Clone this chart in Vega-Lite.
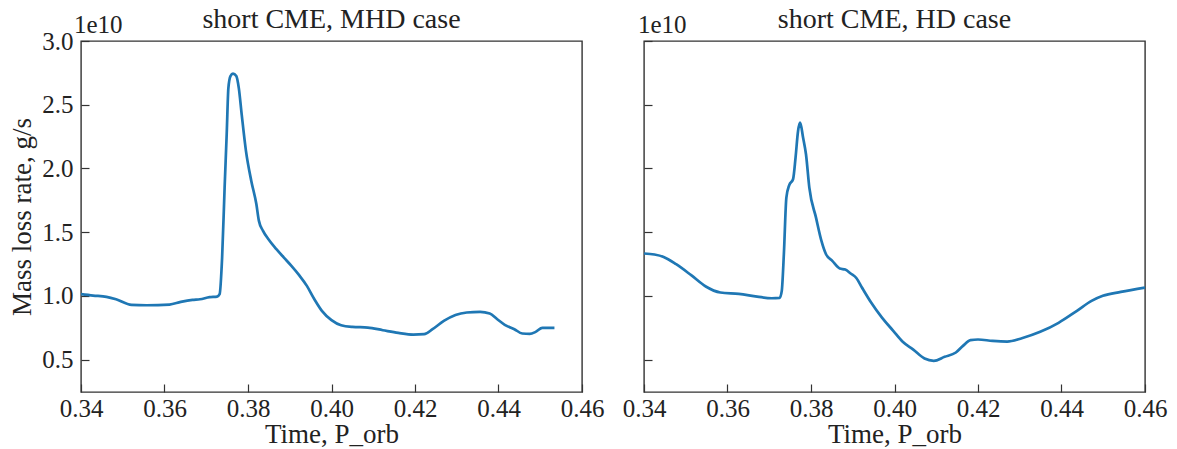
{
  "$schema": "https://vega.github.io/schema/vega-lite/v6.json",
  "background": "white",
  "padding": {"left": 8, "top": 5, "right": 5, "bottom": 0},
  "config": {
    "font": "Liberation Serif",
    "view": {"stroke": "#333", "strokeWidth": 1.4},
    "axis": {
      "domain": false,
      "grid": false,
      "tickSize": -8,
      "tickColor": "#333",
      "tickWidth": 1.2,
      "labelFlush": false,
      "labelFont": "Liberation Serif",
      "labelFontSize": 25,
      "labelColor": "#222",
      "titleFont": "Liberation Serif",
      "titleFontSize": 27,
      "titleFontWeight": "normal",
      "titleColor": "#222"
    },
    "axisX": {"labelPadding": 12, "titlePadding": 0},
    "axisY": {"labelPadding": 16, "titlePadding": 5},
    "title": {"font": "Liberation Serif", "fontSize": 28, "fontWeight": "normal", "color": "#222", "baseline": "alphabetic", "offset": -21}
  },
  "datasets": {
    "mhd": [
      {"t": 0.34, "rate": 1.013}, {"t": 0.3429, "rate": 1.002}, {"t": 0.3461, "rate": 0.992},
      {"t": 0.3484, "rate": 0.973}, {"t": 0.3521, "rate": 0.929}, {"t": 0.3557, "rate": 0.926},
      {"t": 0.3612, "rate": 0.931}, {"t": 0.3639, "rate": 0.952}, {"t": 0.3667, "rate": 0.968},
      {"t": 0.3685, "rate": 0.973}, {"t": 0.3708, "rate": 0.989}, {"t": 0.3726, "rate": 0.994},
      {"t": 0.3732, "rate": 1.013}, {"t": 0.3738, "rate": 1.30}, {"t": 0.3744, "rate": 1.85},
      {"t": 0.3749, "rate": 2.27}, {"t": 0.3753, "rate": 2.63}, {"t": 0.3758, "rate": 2.725},
      {"t": 0.3764, "rate": 2.744}, {"t": 0.3772, "rate": 2.725}, {"t": 0.3778, "rate": 2.63},
      {"t": 0.3785, "rate": 2.42}, {"t": 0.3795, "rate": 2.14}, {"t": 0.3808, "rate": 1.90},
      {"t": 0.382, "rate": 1.72}, {"t": 0.3826, "rate": 1.59}, {"t": 0.3836, "rate": 1.51},
      {"t": 0.3849, "rate": 1.444}, {"t": 0.3868, "rate": 1.366}, {"t": 0.3886, "rate": 1.30},
      {"t": 0.3904, "rate": 1.235}, {"t": 0.3922, "rate": 1.164}, {"t": 0.3941, "rate": 1.078},
      {"t": 0.3959, "rate": 0.973}, {"t": 0.3977, "rate": 0.882}, {"t": 0.4, "rate": 0.809},
      {"t": 0.4023, "rate": 0.769}, {"t": 0.405, "rate": 0.756}, {"t": 0.4087, "rate": 0.751},
      {"t": 0.4123, "rate": 0.73}, {"t": 0.416, "rate": 0.709}, {"t": 0.4196, "rate": 0.696},
      {"t": 0.4222, "rate": 0.699}, {"t": 0.4242, "rate": 0.738}, {"t": 0.4269, "rate": 0.803},
      {"t": 0.4297, "rate": 0.85}, {"t": 0.4324, "rate": 0.869}, {"t": 0.4356, "rate": 0.874},
      {"t": 0.4379, "rate": 0.861}, {"t": 0.4397, "rate": 0.816}, {"t": 0.4415, "rate": 0.772},
      {"t": 0.4438, "rate": 0.738}, {"t": 0.4457, "rate": 0.704}, {"t": 0.4475, "rate": 0.701},
      {"t": 0.4489, "rate": 0.717}, {"t": 0.4505, "rate": 0.748}, {"t": 0.4534, "rate": 0.748}
    ],
    "hd": [
      {"t": 0.34, "rate": 1.332}, {"t": 0.3425, "rate": 1.324}, {"t": 0.3447, "rate": 1.305},
      {"t": 0.3477, "rate": 1.248}, {"t": 0.3513, "rate": 1.162}, {"t": 0.3548, "rate": 1.073},
      {"t": 0.3583, "rate": 1.026}, {"t": 0.3627, "rate": 1.015}, {"t": 0.3671, "rate": 0.994},
      {"t": 0.3706, "rate": 0.981}, {"t": 0.3725, "rate": 0.984}, {"t": 0.373, "rate": 1.039},
      {"t": 0.3735, "rate": 1.326}, {"t": 0.3741, "rate": 1.771}, {"t": 0.3748, "rate": 1.87},
      {"t": 0.3757, "rate": 1.915}, {"t": 0.3763, "rate": 2.085}, {"t": 0.3769, "rate": 2.294},
      {"t": 0.3774, "rate": 2.359}, {"t": 0.3781, "rate": 2.242}, {"t": 0.3788, "rate": 2.111},
      {"t": 0.3796, "rate": 1.849}, {"t": 0.3812, "rate": 1.614}, {"t": 0.3825, "rate": 1.431},
      {"t": 0.3836, "rate": 1.326}, {"t": 0.3851, "rate": 1.274}, {"t": 0.3869, "rate": 1.214},
      {"t": 0.3882, "rate": 1.206}, {"t": 0.3895, "rate": 1.175}, {"t": 0.3909, "rate": 1.138},
      {"t": 0.3922, "rate": 1.065}, {"t": 0.3944, "rate": 0.947}, {"t": 0.397, "rate": 0.829},
      {"t": 0.3997, "rate": 0.725}, {"t": 0.4019, "rate": 0.641}, {"t": 0.4045, "rate": 0.578},
      {"t": 0.4072, "rate": 0.508}, {"t": 0.4094, "rate": 0.49}, {"t": 0.412, "rate": 0.521},
      {"t": 0.4147, "rate": 0.555}, {"t": 0.4164, "rate": 0.607}, {"t": 0.4182, "rate": 0.652},
      {"t": 0.42, "rate": 0.657}, {"t": 0.4235, "rate": 0.646}, {"t": 0.427, "rate": 0.641},
      {"t": 0.4305, "rate": 0.667}, {"t": 0.4349, "rate": 0.717}, {"t": 0.4393, "rate": 0.788},
      {"t": 0.4437, "rate": 0.882}, {"t": 0.4472, "rate": 0.96}, {"t": 0.4499, "rate": 1.0},
      {"t": 0.4542, "rate": 1.031}, {"t": 0.46, "rate": 1.065}
    ]
  },
  "bounds": "flush",
  "spacing": 62,
  "hconcat": [
    {
      "width": 501,
      "height": 351,
      "title": "short CME, MHD case",
      "layer": [
        {
          "data": {"name": "mhd"},
          "mark": {"type": "line", "color": "#1f77b4", "strokeWidth": 2.7, "clip": true, "interpolate": "monotone"},
          "encoding": {
            "x": {"field": "t", "type": "quantitative", "scale": {"domain": [0.34, 0.46], "nice": false, "zero": false},
                  "axis": {"values": [0.34, 0.36, 0.38, 0.40, 0.42, 0.44, 0.46], "format": ".2f", "title": "Time, P_orb"}},
            "y": {"field": "rate", "type": "quantitative", "scale": {"domain": [0.245, 3.0], "nice": false, "zero": false},
                  "axis": {"values": [0.5, 1.0, 1.5, 2.0, 2.5, 3.0], "format": ".1f", "title": "Mass loss rate, g/s"}}
          }
        },
        {
          "data": {"values": [{"label": "1e10"}]},
          "mark": {"type": "text", "align": "left", "baseline": "alphabetic", "dx": -7, "dy": -8, "fontSize": 25, "color": "#222", "font": "Liberation Serif"},
          "encoding": {
            "x": {"datum": 0.34, "type": "quantitative"},
            "y": {"datum": 3.0, "type": "quantitative"},
            "text": {"field": "label"}
          }
        }
      ]
    },
    {
      "width": 501,
      "height": 351,
      "title": "short CME, HD case",
      "layer": [
        {
          "data": {"name": "hd"},
          "mark": {"type": "line", "color": "#1f77b4", "strokeWidth": 2.7, "clip": true, "interpolate": "monotone"},
          "encoding": {
            "x": {"field": "t", "type": "quantitative", "scale": {"domain": [0.34, 0.46], "nice": false, "zero": false},
                  "axis": {"values": [0.34, 0.36, 0.38, 0.40, 0.42, 0.44, 0.46], "format": ".2f", "title": "Time, P_orb"}},
            "y": {"field": "rate", "type": "quantitative", "scale": {"domain": [0.245, 3.0], "nice": false, "zero": false},
                  "axis": {"values": [0.5, 1.0, 1.5, 2.0, 2.5, 3.0], "labels": false, "title": null}}
          }
        },
        {
          "data": {"values": [{"label": "1e10"}]},
          "mark": {"type": "text", "align": "left", "baseline": "alphabetic", "dx": -6, "dy": -8, "fontSize": 25, "color": "#222", "font": "Liberation Serif"},
          "encoding": {
            "x": {"datum": 0.34, "type": "quantitative"},
            "y": {"datum": 3.0, "type": "quantitative"},
            "text": {"field": "label"}
          }
        }
      ]
    }
  ]
}
